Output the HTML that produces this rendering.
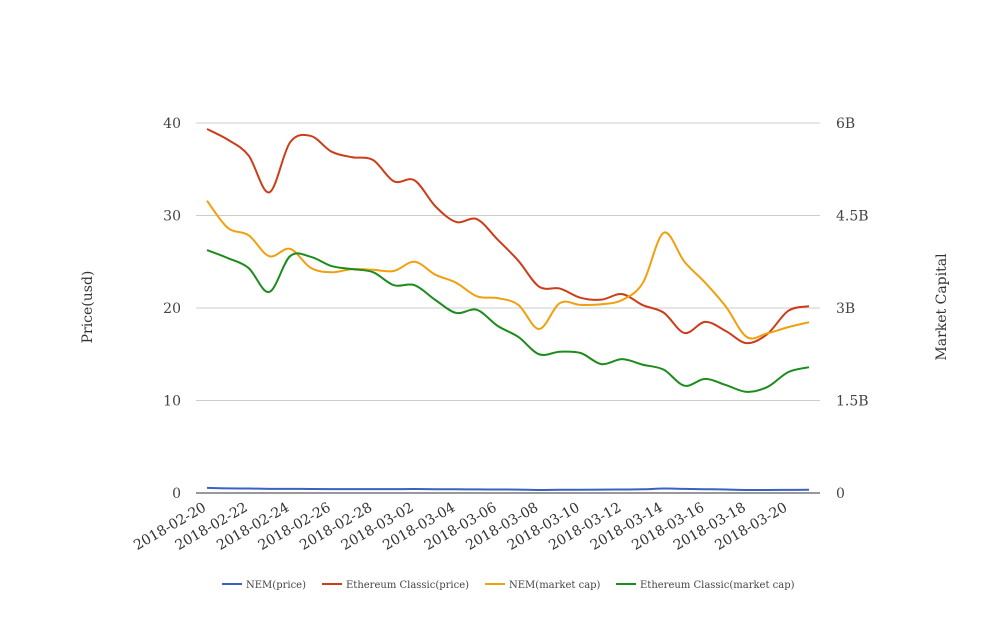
<!DOCTYPE html>
<html><head><meta charset="utf-8"><style>
body{margin:0;background:#fff;}
svg{font-family:"DejaVu Serif","Liberation Serif",serif;}
</style></head><body>
<svg id="chart" width="1008" height="616"></svg>
<script>
const dates=[];for(let i=0;i<30;i++){const d=new Date(Date.UTC(2018,1,20+i));dates.push(d.toISOString().slice(0,10));}
const nemPrice=[0.55,0.5,0.48,0.45,0.45,0.43,0.42,0.42,0.42,0.42,0.43,0.41,0.40,0.39,0.38,0.37,0.33,0.35,0.35,0.36,0.38,0.40,0.48,0.44,0.41,0.38,0.33,0.33,0.34,0.35];
const etcPrice=[39.35,38.2,36.5,32.5,37.9,38.6,36.9,36.3,36.0,33.7,33.8,31.0,29.3,29.6,27.4,25.1,22.3,22.1,21.1,20.9,21.5,20.3,19.5,17.3,18.5,17.5,16.2,17.2,19.7,20.2];
const nemCap=[4.74,4.30,4.18,3.84,3.96,3.65,3.58,3.63,3.62,3.60,3.75,3.54,3.41,3.19,3.16,3.05,2.66,3.08,3.05,3.06,3.13,3.41,4.22,3.75,3.41,3.02,2.53,2.59,2.69,2.77];
const etcCap=[3.94,3.81,3.65,3.26,3.84,3.83,3.68,3.63,3.58,3.37,3.37,3.13,2.92,2.97,2.71,2.53,2.25,2.29,2.27,2.09,2.17,2.08,2.00,1.74,1.85,1.75,1.64,1.72,1.96,2.04];
const leftTicks=[0,10,20,30,40];
const rightTicks=["0","1.5B","3B","4.5B","6B"];
const rightVals=[0,1.5,3,4.5,6];
const X0=207,X1=809,Y0=493,Y1=123;
const sx=i=>X0+(X1-X0)*i/(dates.length-1);
const syL=v=>Y0-(Y0-Y1)*v/40;
const syR=v=>Y0-(Y0-Y1)*v/6;
const svg=document.getElementById('chart');const NS='http://www.w3.org/2000/svg';
function mk(t,a,p){const e=document.createElementNS(NS,t);for(const k in a)e.setAttribute(k,a[k]);(p||svg).appendChild(e);return e;}
leftTicks.forEach((v,i)=>{
 const y=syL(v);
 const g=mk('line',{x1:196,x2:820,y1:y,y2:y,stroke:i==0?'#333':'#ccc','stroke-width':1});
 
 
 const t=mk('text',{x:181,y:y+5,'text-anchor':'end','font-size':14,fill:'#444'});t.textContent=v;
 
 
});
rightVals.forEach((v,i)=>{
 const t=mk('text',{x:836,y:syR(v)+5,'font-size':14,fill:'#444'});t.textContent=rightTicks[i];
 
 
});
dates.forEach((d,i)=>{if(i%2)return;
 const x=sx(i);
 const t=mk('text',{x:x,y:510,'text-anchor':'end','font-size':14,fill:'#333',transform:`rotate(-30 ${x} 510)`});t.textContent=d;
 
 
});
let t=mk('text',{x:92,y:307,'text-anchor':'middle','font-size':14,fill:'#333',transform:'rotate(-90 92 307)'});t.textContent='Price(usd)';


t=mk('text',{x:946,y:307,'text-anchor':'middle','font-size':14,fill:'#333',transform:'rotate(-90 946 307)'});t.textContent='Market Capital';


function path(pts){let d=`M${pts[0][0]},${pts[0][1]}`;for(let i=0;i<pts.length-1;i++){const p0=pts[i-1]||pts[i],p1=pts[i],p2=pts[i+1],p3=pts[i+2]||p2;
 d+=` C${p1[0]+(p2[0]-p0[0])/6},${p1[1]+(p2[1]-p0[1])/6} ${p2[0]-(p3[0]-p1[0])/6},${p2[1]-(p3[1]-p1[1])/6} ${p2[0]},${p2[1]}`;}return d;}
const series=[[nemPrice,syL,'#3a62c2','nem-price-line'],[etcPrice,syL,'#cc3d1a','etc-price-line'],[nemCap,syR,'#f0a00f','nem-market-cap-line'],[etcCap,syR,'#1c8c1c','etc-market-cap-line']];
series.forEach(s=>{const p=mk('path',{d:path(s[0].map((v,i)=>[sx(i),s[1](v)])),fill:'none',stroke:s[2],'stroke-width':2});
 
 });
const leg=[['NEM(price)',222,'#3a62c2'],['Ethereum Classic(price)',322,'#cc3d1a'],['NEM(market cap)',485,'#f0a00f'],['Ethereum Classic(market cap)',616,'#1c8c1c']];
leg.forEach(l=>{const g=mk('g',{});
 
 
 mk('line',{x1:l[1],x2:l[1]+20,y1:584,y2:584,stroke:l[2],'stroke-width':2},g);
 const tt=mk('text',{x:l[1]+24,y:588,'font-size':10,fill:'#444'},g);tt.textContent=l[0];});
</script>
</body></html>
